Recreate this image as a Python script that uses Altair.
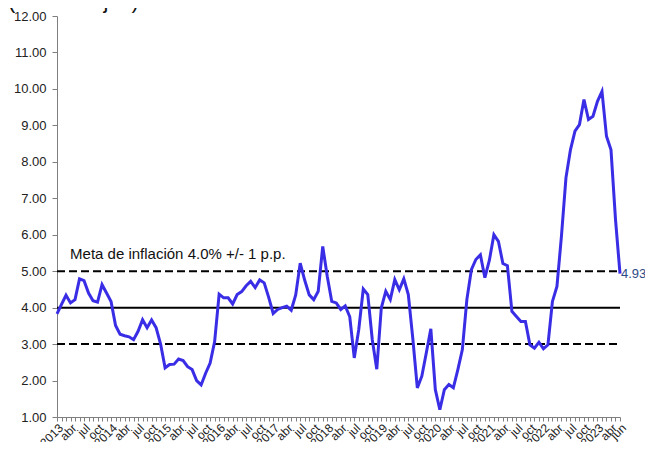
import json
import altair as alt
import pandas as pd

# Monthly interannual inflation (%), Jan 2013 - Jun 2023
y2013 = [3.83, 4.09, 4.34, 4.13, 4.22, 4.79, 4.74, 4.40, 4.19, 4.15, 4.63, 4.40]
y2014 = [4.17, 3.51, 3.27, 3.23, 3.20, 3.12, 3.35, 3.67, 3.45, 3.66, 3.45, 3.00]
y2015 = [2.35, 2.44, 2.45, 2.59, 2.55, 2.38, 2.30, 2.00, 1.88, 2.20, 2.48, 3.07]
y2016 = [4.37, 4.27, 4.27, 4.10, 4.36, 4.44, 4.60, 4.72, 4.55, 4.76, 4.68, 4.28]
y2017 = [3.84, 3.95, 4.00, 4.04, 3.93, 4.35, 5.22, 4.75, 4.35, 4.22, 4.45, 5.68]
y2018 = [4.86, 4.17, 4.13, 3.95, 4.05, 3.75, 2.62, 3.40, 4.51, 4.36, 3.12, 2.31]
y2019 = [3.99, 4.45, 4.22, 4.77, 4.49, 4.79, 4.36, 3.15, 1.80, 2.12, 2.76, 3.42]
y2020 = [1.75, 1.20, 1.75, 1.89, 1.80, 2.30, 2.85, 4.22, 5.04, 5.32, 5.45, 4.82]
y2021 = [5.30, 6.00, 5.82, 5.21, 5.15, 3.90, 3.76, 3.62, 3.62, 2.98, 2.89, 3.05]
y2022 = [2.87, 2.98, 4.17, 4.58, 5.96, 7.56, 8.33, 8.84, 9.02, 9.71, 9.16, 9.25]
y2023 = [9.66, 9.93, 8.70, 8.33, 6.42, 4.93]

start_year = 2013
month_abbr = ["ene", "feb", "mar", "abr", "may", "jun",
              "jul", "ago", "sep", "oct", "nov", "dic"]
labelled_months = [3, 6, 9]  # abr, jul, oct

target = 4.0
band = 1.0
target_text = "Meta de inflación 4.0% +/- 1 p.p."
title_text = "(Porcentajes)"
y_ticks = list(range(1, 13))

values = y2013 + y2014 + y2015 + y2016 + y2017 + y2018 + y2019 + y2020 + y2021 + y2022 + y2023
n = len(values)

labels = []
for i in range(n):
    yr, m = divmod(i, 12)
    if m == 0:
        labels.append(str(start_year + yr))
    elif m in labelled_months:
        labels.append(month_abbr[m])
    else:
        labels.append("")
labels[-1] = month_abbr[(n - 1) % 12]

df = pd.DataFrame({"t": list(range(n)), "v": values})
last_df = df.tail(1)
bands_df = pd.DataFrame({"v": [target - band, target + band]})
target_df = pd.DataFrame({"v": [target]})
note_df = pd.DataFrame({"t": [2.9], "v": [5.48], "label": [target_text]})
title_df = pd.DataFrame({"label": [title_text]})

FONT = "Liberation Sans"
AX = "#7f7f7f"

x_scale = alt.Scale(domain=[0, n - 1], nice=False, zero=False)
y_scale = alt.Scale(domain=[1, 12], nice=False, zero=False)

x_axis = alt.Axis(
    values=list(range(n)),
    labelExpr=json.dumps(labels) + "[datum.value]",
    labelAngle=-45, labelAlign="right", labelBaseline="top",
    labelFont=FONT, labelFontSize=12, labelColor="#222222",
    labelOverlap=False, labelPadding=1, labelBound=False, labelFlush=False,
    tickSize=4, tickColor=AX, domainColor=AX, grid=False, title=None,
)
y_axis = alt.Axis(
    values=y_ticks, format=".2f",
    labelFont=FONT, labelFontSize=13, labelColor="#222222", labelPadding=6,
    tickSize=5, tickColor=AX, domainColor=AX, grid=False, title=None,
)

X = alt.X("t:Q", scale=x_scale, axis=x_axis)
Y = alt.Y("v:Q", scale=y_scale, axis=y_axis)

band_rules = alt.Chart(bands_df).mark_rule(
    color="black", strokeWidth=2, strokeDash=[8, 4]
).encode(
    y=Y,
    x=alt.datum(0, scale=x_scale, axis=x_axis),
    x2=alt.datum(n - 1),
)

target_rule = alt.Chart(target_df).mark_rule(
    color="black", strokeWidth=2
).encode(
    y=Y,
    x=alt.datum(0, scale=x_scale, axis=x_axis),
    x2=alt.datum(n - 1),
)

line = alt.Chart(df).mark_line(color="#3a2de6", strokeWidth=3).encode(x=X, y=Y)

note = alt.Chart(note_df).mark_text(
    align="left", baseline="middle", font=FONT, fontSize=15, color="#111111"
).encode(x=X, y=Y, text="label:N")

last_label = alt.Chart(last_df).mark_text(
    align="left", baseline="middle", dx=1, font=FONT, fontSize=13, color="#2e4a86"
).encode(x=X, y=Y, text=alt.Text("v:Q", format=".2f"))

title = alt.Chart(title_df).mark_text(
    align="left", baseline="alphabetic", font=FONT, fontSize=22, color="#111111"
).encode(
    x=alt.value(-49),
    y=alt.value(-8),
    text="label:N",
)

chart = alt.layer(
    band_rules, target_rule, line, note, last_label, title
).properties(
    width=563,
    height=401,
    autosize=alt.AutoSizeParams(type="none"),
    padding={"left": 49, "top": 8, "right": 25, "bottom": 25},
    background="white",
).configure_view(stroke=None)

chart.save("out.html", embed_options={"renderer": "svg", "actions": False})
